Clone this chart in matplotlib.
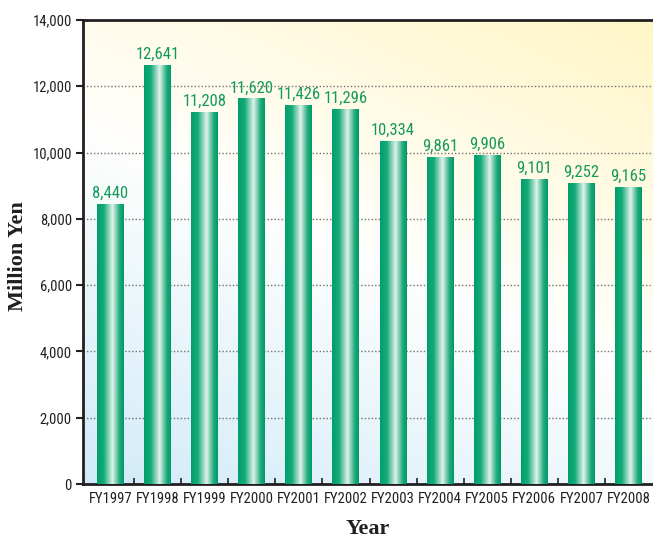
import numpy as np
import matplotlib
matplotlib.use("Agg")
import matplotlib.pyplot as plt
from matplotlib.colors import LinearSegmentedColormap
from matplotlib.ticker import FuncFormatter, MultipleLocator, FixedLocator

# datos
years = ["FY1997", "FY1998", "FY1999", "FY2000", "FY2001", "FY2002",
         "FY2003", "FY2004", "FY2005", "FY2006", "FY2007", "FY2008"]
values = [8440, 12641, 11208, 11620, 11426, 11296,
          10334, 9861, 9906, 9101, 9252, 9165]
# alturas de las barras tal como estan dibujadas (FY2006-2008 no coinciden con la etiqueta)
heights = [8440, 12641, 11208, 11620, 11426, 11296,
           10334, 9861, 9906, 9200, 9080, 8960]

sans = ["Roboto Condensed", "Liberation Sans", "DejaVu Sans"]

fig = plt.figure(figsize=(6.53, 5.4), dpi=100)
ax = fig.add_axes([83 / 653, 56 / 540, 1 - 83 / 653, 464 / 540])

# fondo degradado
gx, gy = np.meshgrid(np.linspace(0, 1, 200), np.linspace(0, 1, 200))
t = (0.55 * gx + gy) / 1.55
bg = LinearSegmentedColormap.from_list(
    "bg", [(0.0, (0.82, 0.92, 0.975)), (0.5, (1.0, 1.0, 0.99)), (1.0, (1.0, 0.965, 0.78))])
ax.imshow(t, cmap=bg, origin="lower", extent=[0, 1, 0, 1], transform=ax.transAxes,
          aspect="auto", zorder=0, interpolation="bilinear")

x = np.arange(len(years))
bars = ax.bar(x, heights, width=0.573, color="#00a06e", zorder=2)

# degradado de cada barra
grad = LinearSegmentedColormap.from_list(
    "bar", [(0.0, (0.0, 0.62, 0.43)), (0.25, (0.08, 0.67, 0.47)), (0.58, (0.88, 0.95, 0.92)),
            (0.85, (0.12, 0.67, 0.48)), (1.0, (0.0, 0.6, 0.41))])
row = np.linspace(0, 1, 100).reshape(1, -1)
for b in bars:
    bx, bw, bh = b.get_x(), b.get_width(), b.get_height()
    ax.imshow(row, cmap=grad, extent=[bx, bx + bw, 0, bh], aspect="auto", zorder=3,
              interpolation="bilinear")

for xi, h, v in zip(x, heights, values):
    ax.annotate(f"{v:,}", (xi, h), xytext=(0, 2.5), textcoords="offset points",
                ha="center", va="bottom", color="#14995a", fontsize=12, family=sans, zorder=4)

ax.set_xlim(-0.584, 11.52)
ax.set_ylim(0, 14000)
ax.yaxis.set_major_locator(MultipleLocator(2000))
ax.yaxis.set_major_formatter(FuncFormatter(lambda v, p: f"{int(v):,}"))
ax.set_xticks(x)
ax.set_xticklabels(years)
ax.xaxis.set_minor_locator(FixedLocator(x[:-1] + 0.5))
ax.tick_params(axis="x", which="major", length=0, pad=6, labelsize=10.5, labelcolor="#231f20")
ax.tick_params(axis="x", which="minor", direction="in", length=4, width=1.2, color="#231f20")
ax.tick_params(axis="y", direction="out", length=5, width=1.5, color="#231f20",
               labelsize=10.5, labelcolor="#231f20", pad=3)
for lab in ax.get_xticklabels() + ax.get_yticklabels():
    lab.set_family(sans)

ax.grid(axis="y", linestyle=(0, (1, 1.5)), color="#707070", linewidth=1, zorder=1)
ax.set_axisbelow(True)
for s in ["left", "bottom", "top"]:
    ax.spines[s].set_color("#231f20")
    ax.spines[s].set_linewidth(2)
ax.spines["right"].set_visible(False)

fig.text(18 / 653, 1 - 256 / 540, "Million Yen", rotation=90, ha="center", va="center",
         fontsize=16, fontweight="bold", family="Liberation Serif", color="#231f20")
fig.text(368 / 653, 1 / 540, "Year", ha="center", va="bottom",
         fontsize=16, fontweight="bold", family="Liberation Serif", color="#231f20")

fig.savefig("out.png", dpi=100)
